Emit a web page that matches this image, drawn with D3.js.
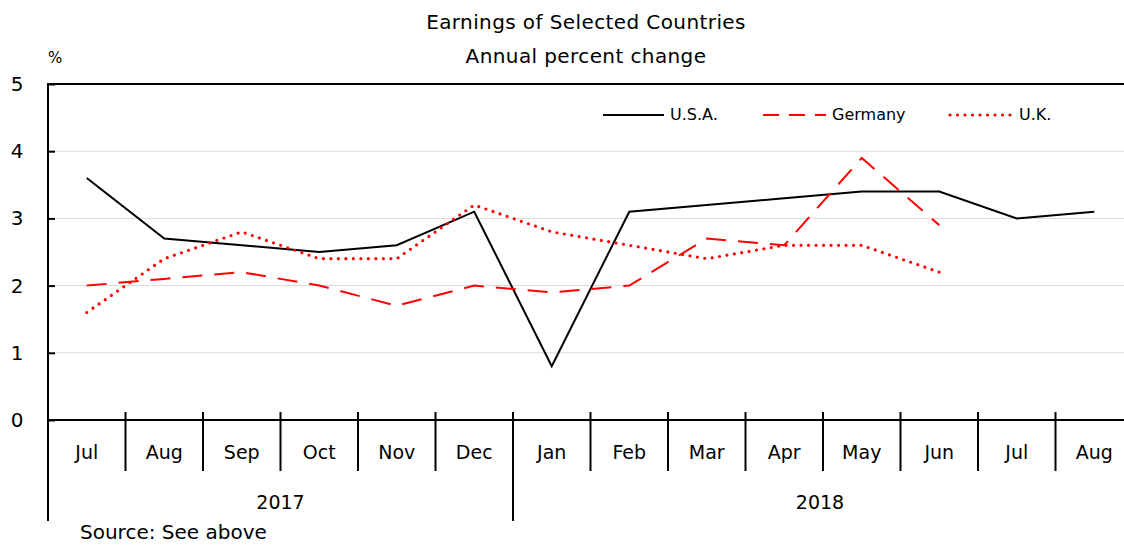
<!DOCTYPE html>
<html>
<head>
<meta charset="utf-8">
<script src="https://cdn.jsdelivr.net/npm/d3@7"></script>
<style>
  body { margin: 0; background: #fff; }
  svg text { font-family: "DejaVu Sans", sans-serif; fill: #000; }
</style>
</head>
<body>
<svg id="chart" width="1124" height="545"></svg>
<script>
// chart data
const months = ['Jul', 'Aug', 'Sep', 'Oct', 'Nov', 'Dec', 'Jan', 'Feb', 'Mar', 'Apr', 'May', 'Jun', 'Jul', 'Aug'];
const years = [{ label: '2017', from: 0, to: 6 }, { label: '2018', from: 6, to: 14 }];
const usa = [3.6, 2.7, 2.6, 2.5, 2.6, 3.1, 0.8, 3.1, 3.2, 3.3, 3.4, 3.4, 3.0, 3.1];
const germany = [2.0, 2.1, 2.2, 2.0, 1.7, 2.0, 1.9, 2.0, 2.7, 2.6, 3.9, 2.9];
const uk = [1.6, 2.4, 2.8, 2.4, 2.4, 3.2, 2.8, 2.6, 2.4, 2.6, 2.6, 2.2];
const yTicks = [0, 1, 2, 3, 4, 5];

const series = [
    { name: 'U.S.A.', values: usa, color: '#000', dash: null, width: 2 },
    { name: 'Germany', values: germany, color: '#ff0000', dash: '20,12', width: 2 },
    { name: 'U.K.', values: uk, color: '#ff0000', dash: '0,7.5', width: 3.2, cap: 'round' }
];

const svg = d3.select('#chart');
const plotLeft = 48, plotRight = 1133, plotTop = 84, plotBottom = 420;

const x = d3.scaleBand().domain(d3.range(months.length)).range([plotLeft, plotRight]);
const y = d3.scaleLinear().domain([0, 5]).range([plotBottom, plotTop]);

// titles
svg.append('text').attr('x', 586).attr('y', 29).attr('text-anchor', 'middle')
    .style('font-size', '20px').style('letter-spacing', '0.4px').text('Earnings of Selected Countries');
svg.append('text').attr('x', 586).attr('y', 63).attr('text-anchor', 'middle')
    .style('font-size', '20px').style('letter-spacing', '0.4px').text('Annual percent change');
svg.append('text').attr('x', 48).attr('y', 63)
    .style('font-size', '15px').text('%');

// gridlines
svg.append('g').selectAll('line').data(yTicks.filter(d => d > 0 && d < 5)).enter()
    .append('line')
    .attr('x1', plotLeft).attr('x2', plotRight)
    .attr('y1', d => y(d)).attr('y2', d => y(d))
    .attr('stroke', '#d9d9d9').attr('stroke-width', 1);

// top border
svg.append('line').attr('x1', plotLeft).attr('x2', plotRight).attr('y1', plotTop).attr('y2', plotTop)
    .attr('stroke', '#000').attr('stroke-width', 2);

// y axis
const yAxis = svg.append('g').attr('transform', `translate(${plotLeft},0)`)
    .call(d3.axisRight(y).tickValues(yTicks).tickSize(7).tickFormat(''));
yAxis.select('.domain').remove();
yAxis.selectAll('line').attr('stroke', '#000').attr('stroke-width', 2);
svg.append('g').selectAll('text').data(yTicks).enter().append('text')
    .attr('x', 17).attr('y', d => y(d) + 7).attr('text-anchor', 'middle')
    .style('font-size', '20px').text(d => d);
svg.append('line').attr('x1', plotLeft).attr('x2', plotLeft).attr('y1', plotTop - 1).attr('y2', 521)
    .attr('stroke', '#000').attr('stroke-width', 2);

// x axis
svg.append('line').attr('x1', plotLeft).attr('x2', plotRight).attr('y1', plotBottom).attr('y2', plotBottom)
    .attr('stroke', '#000').attr('stroke-width', 2);
svg.append('g').selectAll('line').data(d3.range(1, months.length)).enter().append('line')
    .attr('x1', d => x(d)).attr('x2', d => x(d))
    .attr('y1', plotBottom - 8).attr('y2', 471)
    .attr('stroke', '#000').attr('stroke-width', 2);
svg.append('g').selectAll('text').data(months).enter().append('text')
    .attr('x', (d, i) => x(i) + x.bandwidth() / 2).attr('y', 459)
    .attr('text-anchor', 'middle').style('font-size', '19px').text(d => d);
svg.append('g').selectAll('line').data(years.slice(1)).enter().append('line')
    .attr('x1', d => x(d.from)).attr('x2', d => x(d.from))
    .attr('y1', plotBottom).attr('y2', 521)
    .attr('stroke', '#000').attr('stroke-width', 2);
svg.append('g').selectAll('text').data(years).enter().append('text')
    .attr('x', d => (x(d.from) + Math.min(x(d.to - 1) + x.bandwidth(), plotRight)) / 2 - (d.to === months.length ? 3 : 0))
    .attr('y', 509).attr('text-anchor', 'middle').style('font-size', '19px').text(d => d.label);

svg.append('text').attr('x', 80).attr('y', 539).style('font-size', '20px').text('Source: See above');

// lines
const line = d3.line().x((d, i) => x(i) + x.bandwidth() / 2).y(d => y(d));
series.forEach(s => {
    svg.append('path').datum(s.values)
        .attr('d', line)
        .attr('fill', 'none')
        .attr('stroke', s.color)
        .attr('stroke-width', s.width)
        .attr('stroke-dasharray', s.dash)
        .attr('stroke-linecap', s.cap || 'butt');
});

// legend
const legendPos = [{ x1: 603, x2: 664 }, { x1: 763, x2: 826 }, { x1: 950, x2: 1013 }];
series.forEach((s, i) => {
    const p = legendPos[i];
    svg.append('line').attr('x1', p.x1).attr('x2', p.x2).attr('y1', 115).attr('y2', 115)
        .attr('stroke', s.color).attr('stroke-width', s.width)
        .attr('stroke-dasharray', s.dash ? (i === 1 ? '16,10' : s.dash) : null)
        .attr('stroke-linecap', s.cap || 'butt');
    svg.append('text').attr('x', p.x2 + 6).attr('y', 120).style('font-size', '16px').text(s.name);
});
</script>
</body>
</html>
